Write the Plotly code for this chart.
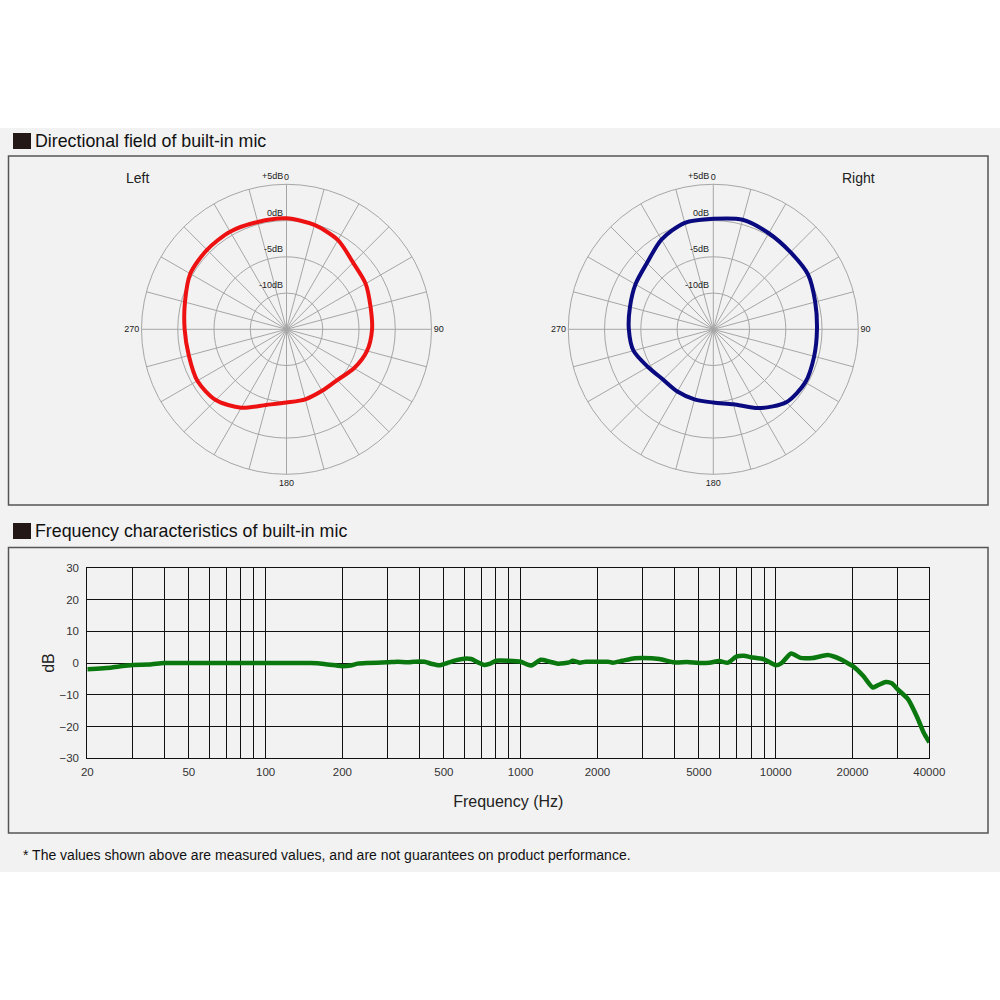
import numpy as np
import plotly.graph_objects as go

# ---------------- data ----------------
angles = [0, 15, 30, 45, 60, 75, 90, 105, 120, 135, 150, 165,
          180, 195, 210, 225, 240, 255, 270, 285, 300, 315, 330, 345]
left_db = [0.3, -0.1, -0.8, -2.0, -2.4, -3.0, -3.2, -3.5, -4.25, -5.1, -5.2, -5.0,
           -4.9, -4.2, -2.5, -1.2, -0.8, -1.05, -0.95, -0.5, 0.33, 0.5, 0.55, 0.33]
right_db = [0.24, 0.65, 0.3, 0.05, 0.1, -0.45, -0.7, -0.6, -0.35, -0.77, -2.45, -4.3,
            -4.9, -5.0, -5.1, -5.2, -4.6, -3.6, -3.35, -3.1, -2.6, -2.06, -0.7, 0.2]

radial_range = [-15, 5]
radial_tickvals = [-10, -5, 0, 5]
radial_ticktext = ["-10dB", "-5dB", "0dB", "+5dB"]
angle_gridvals = list(range(0, 360, 15))
angle_labels = {0: "0", 90: "90", 180: "180", 270: "270"}

freq_hz = [20, 25, 30, 35, 40, 50, 70, 100, 150, 170, 190, 200, 215, 230, 250, 300,
           330, 360, 400, 420, 450, 480, 520, 560, 600, 640, 680, 720, 760, 800,
           1000, 1050, 1100, 1200, 1300, 1400, 1550, 1600, 1700, 1800, 2000, 2200,
           2300, 2500, 2800, 3000, 3500, 4000, 4500, 5000, 5500, 6000, 6500, 7000,
           7500, 8000, 9000, 10000, 10500, 11500, 12500, 14000, 16000, 18000, 19000,
           20000, 22000, 24000, 25000, 27000, 28500, 30000, 33000, 36000, 38000, 40000]
response_db = [-2.0, -1.4, -0.6, -0.5, 0.0, 0.0, 0.0, 0.0, 0.0, -0.3, -0.8, -1.0, -0.8,
               -0.2, 0.0, 0.2, 0.4, 0.2, 0.5, 0.4, -0.3, -0.7, 0.1, 0.9, 1.35, 1.25,
               0.2, -0.6, -0.2, 0.7, 0.4, -0.3, -0.8, 1.0, 0.4, -0.2, 0.2, 0.7, 0.1,
               0.4, 0.4, 0.4, 0.1, 0.7, 1.5, 1.6, 1.25, 0.2, 0.3, 0.0, 0.1, 0.6, 0.1,
               2.0, 2.3, 1.8, 1.15, -0.7, -0.1, 3.0, 1.6, 1.6, 2.5, 1.15, 0.1, -0.9,
               -4.0, -7.7, -7.1, -6.0, -6.4, -8.2, -11.4, -17.4, -21.9, -25.0]

freq_gridvals = [20, 30, 40, 50, 60, 70, 80, 90, 100, 200, 300, 400, 500, 600, 700,
                 800, 900, 1000, 2000, 3000, 4000, 5000, 6000, 7000, 8000, 9000,
                 10000, 20000, 30000, 40000]
freq_labelled = [20, 50, 100, 200, 500, 1000, 2000, 5000, 10000, 20000, 40000]
db_ticks = [-30, -20, -10, 0, 10, 20, 30]

FONT = "Liberation Sans, Arial, sans-serif"
GRID = "#a6a6a6"

W = 1000.0
def px(x):
    return x / W
def py(y):
    return 1 - y / W

POLAR_Y = [py(474.3), py(184.3)]
POLAR_LEFT_X = [px(141.5), px(431.5)]
POLAR_RIGHT_X = [px(568.3), px(858.3)]

fig = go.Figure()

def closed(a):
    return list(a) + [a[0]]

fig.add_trace(go.Scatterpolar(r=closed(left_db), theta=closed(angles), mode="lines",
                              line=dict(color="#ee1111", width=4, shape="spline", smoothing=0.8),
                              subplot="polar", showlegend=False, hoverinfo="skip"))
fig.add_trace(go.Scatterpolar(r=closed(right_db), theta=closed(angles), mode="lines",
                              line=dict(color="#0a0a80", width=4, shape="spline", smoothing=0.8),
                              subplot="polar2", showlegend=False, hoverinfo="skip"))

fig.add_trace(go.Scatter(x=freq_hz, y=response_db, mode="lines",
                         line=dict(color="#0a780f", width=4.5, shape="spline", smoothing=0.6),
                         xaxis="x", yaxis="y", showlegend=False, hoverinfo="skip"))

def polar_layout(xdom):
    return dict(
        domain=dict(x=xdom, y=POLAR_Y),
        bgcolor="rgba(0,0,0,0)",
        radialaxis=dict(range=radial_range, tickmode="array", tickvals=radial_tickvals,
                        showticklabels=False, angle=90, showline=False, ticks="",
                        gridcolor=GRID, gridwidth=1),
        angularaxis=dict(rotation=90, direction="clockwise", tickmode="array",
                         tickvals=angle_gridvals,
                         ticktext=[angle_labels.get(a, "") for a in angle_gridvals],
                         ticks="", showline=True, linecolor=GRID, linewidth=1,
                         gridcolor=GRID, gridwidth=1,
                         tickfont=dict(size=9, color="#222", family=FONT)),
    )

shapes = [
    dict(type="rect", xref="paper", yref="paper", x0=0, x1=1, y0=py(872), y1=py(128),
         fillcolor="#f2f2f2", line=dict(width=0), layer="below"),
    dict(type="rect", xref="paper", yref="paper", x0=px(8.5), x1=px(988), y0=py(505), y1=py(156),
         fillcolor="rgba(0,0,0,0)", line=dict(color="#555555", width=1.5), layer="below"),
    dict(type="rect", xref="paper", yref="paper", x0=px(8.5), x1=px(988), y0=py(833), y1=py(547.5),
         fillcolor="rgba(0,0,0,0)", line=dict(color="#555555", width=1.5), layer="below"),
    dict(type="rect", xref="paper", yref="paper", x0=px(13), x1=px(31), y0=py(149), y1=py(133),
         fillcolor="#231815", line=dict(width=0)),
    dict(type="rect", xref="paper", yref="paper", x0=px(13), x1=px(31), y0=py(539), y1=py(523),
         fillcolor="#231815", line=dict(width=0)),
]

annotations = [
    dict(text="Directional field of built-in mic", x=px(33), y=py(141), xref="paper", yref="paper",
         xanchor="left", yanchor="middle", showarrow=False, font=dict(size=17.8, color="#111", family=FONT)),
    dict(text="Frequency characteristics of built-in mic", x=px(33), y=py(531), xref="paper", yref="paper",
         xanchor="left", yanchor="middle", showarrow=False, font=dict(size=17.8, color="#111", family=FONT)),
    dict(text="Left", x=px(137), y=py(178), xref="paper", yref="paper", xanchor="center",
         yanchor="middle", showarrow=False, font=dict(size=14, color="#222", family=FONT)),
    dict(text="Right", x=px(858), y=py(178), xref="paper", yref="paper", xanchor="center",
         yanchor="middle", showarrow=False, font=dict(size=14, color="#222", family=FONT)),
    dict(text="* The values shown above are measured values, and are not guarantees on product performance.",
         x=px(21), y=py(855), xref="paper", yref="paper", xanchor="left", yanchor="middle",
         showarrow=False, font=dict(size=14, color="#111", family=FONT)),
]

# radial tick labels, placed through the radial scale of each polar domain
for xdom in (POLAR_LEFT_X, POLAR_RIGHT_X):
    cx = (xdom[0] + xdom[1]) / 2
    cy = (POLAR_Y[0] + POLAR_Y[1]) / 2
    rad = (POLAR_Y[1] - POLAR_Y[0]) / 2
    for v, t in zip(radial_tickvals, radial_ticktext):
        frac = (v - radial_range[0]) / (radial_range[1] - radial_range[0])
        annotations.append(dict(text=t, x=cx - px(2), y=cy + frac * rad + py(999), xref="paper",
                                yref="paper", xanchor="right", yanchor="bottom", showarrow=False,
                                font=dict(size=9, color="#222", family=FONT)))

fig.update_layout(
    template="none",
    width=1000, height=1000, margin=dict(l=0, r=0, t=0, b=0, pad=0), autosize=False,
    paper_bgcolor="white", plot_bgcolor="rgba(0,0,0,0)",
    font=dict(family=FONT),
    polar=polar_layout(POLAR_LEFT_X),
    polar2=polar_layout(POLAR_RIGHT_X),
    xaxis=dict(type="log", domain=[0.0873, 0.9293], range=[np.log10(20), np.log10(40000)],
               automargin=False,
               tickmode="array", tickvals=freq_gridvals,
               ticktext=[str(f) if f in freq_labelled else "" for f in freq_gridvals],
               showgrid=True, gridcolor="#111", gridwidth=1, showline=True, mirror=True,
               linecolor="#111", linewidth=1, ticks="", zeroline=False, ticklabelstandoff=3,
               tickfont=dict(size=11.5, color="#333", family=FONT),
               title=dict(text="Frequency (Hz)", font=dict(size=16, color="#222", family=FONT), standoff=18)),
    yaxis=dict(domain=[0.2417, 0.4323], range=[-30, 30], tickmode="array", tickvals=db_ticks,
               automargin=False,
               showgrid=True, gridcolor="#111", gridwidth=1, showline=True, mirror=True,
               linecolor="#111", linewidth=1, ticks="", zeroline=False, ticklabelstandoff=5,
               tickfont=dict(size=11.5, color="#333", family=FONT),
               title=dict(text="dB", font=dict(size=16, color="#222", family=FONT), standoff=0)),
    shapes=shapes, annotations=annotations,
)

fig.write_html("out.html", post_script="document.body.style.margin='0';")
